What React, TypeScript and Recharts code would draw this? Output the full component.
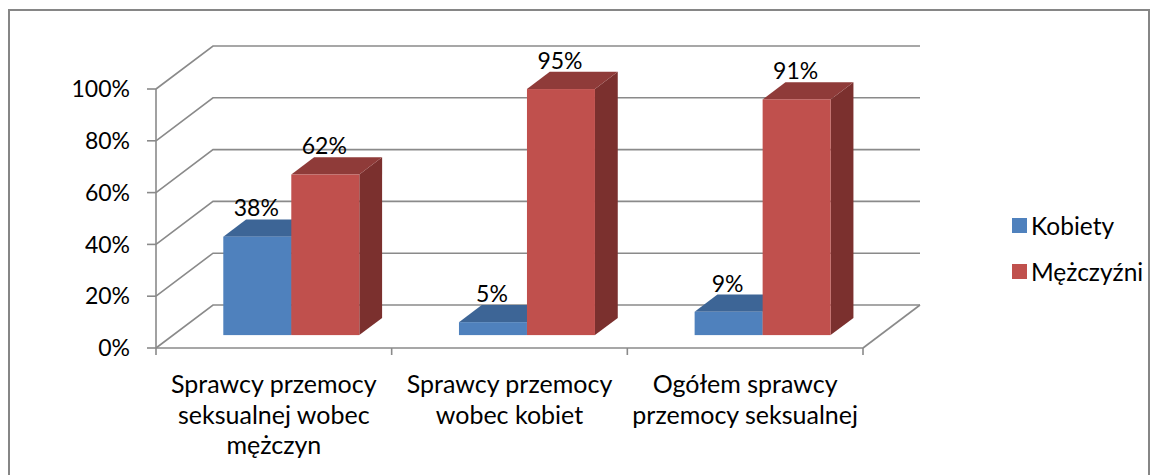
import { BarChart, Bar, XAxis, YAxis, CartesianGrid, Legend } from 'recharts';

const categories = [
  'Sprawcy przemocy seksualnej wobec mężczyn',
  'Sprawcy przemocy wobec kobiet',
  'Ogółem sprawcy przemocy seksualnej',
];
const kobiety = [0.38, 0.05, 0.09];
const mezczyzni = [0.62, 0.95, 0.91];
const yTicks = [0, 0.2, 0.4, 0.6, 0.8, 1];

const W = 1157;
const H = 475;
const FONT = 'Lato, "Open Sans", sans-serif';
const FONT_SIZE = 23;
const CAT_FONT_SIZE = 25;
const LEGEND_FONT_SIZE = 24.5;
const GRID = '#8a8a8a';
// 3D depth of the floor/walls and where the bars sit in it
const DEPTH_X = 57;
const DEPTH_Y = 43;
const BAR_FRONT = 0.3;
const BAR_DEPTH = 0.4;
const FLOOR_Y = 348;
const PLOT_W = 707;

const chartData = categories.map((name, i) => ({
  name,
  kobiety: kobiety[i],
  mezczyzni: mezczyzni[i],
}));

function wrapLabel(text: string, maxChars: number): string[] {
  const lines: string[] = [];
  let cur = '';
  text.split(' ').forEach((word) => {
    const next = cur ? `${cur} ${word}` : word;
    if (next.length > maxChars && cur) {
      lines.push(cur);
      cur = word;
    } else {
      cur = next;
    }
  });
  if (cur) lines.push(cur);
  return lines;
}

function GridLine3D(props: any) {
  const { x1, y1, x2 } = props;
  const bx = x1 + DEPTH_X;
  const by = y1 - DEPTH_Y;
  const isFloor = Math.abs(y1 - FLOOR_Y) < 1.5;
  return (
    <g key={`g-${y1}`}>
      <path
        d={`M${x1},${y1}L${bx},${by}L${x2 + DEPTH_X},${by}`}
        fill="none"
        stroke={GRID}
        strokeWidth={1.6}
      />
      {isFloor && (
        <line x1={x2} y1={y1} x2={x2 + DEPTH_X} y2={by} stroke={GRID} strokeWidth={1.6} />
      )}
    </g>
  );
}

function makeBar3D(topColor: string, sideColor: string) {
  return function Bar3D(props: any) {
    const { x, y, width, height, fill } = props;
    if (width == null || height == null) return <g />;
    const ox = DEPTH_X * BAR_FRONT;
    const oy = DEPTH_Y * BAR_FRONT;
    const dx = DEPTH_X * BAR_DEPTH;
    const dy = DEPTH_Y * BAR_DEPTH;
    const fx = x + ox;
    const fy = y - oy;
    const by = fy + height;
    return (
      <g>
        <polygon
          points={`${fx + width},${fy} ${fx + width + dx},${fy - dy} ${fx + width + dx},${by - dy} ${fx + width},${by}`}
          fill={sideColor}
        />
        <polygon
          points={`${fx},${fy} ${fx + dx},${fy - dy} ${fx + width + dx},${fy - dy} ${fx + width},${fy}`}
          fill={topColor}
        />
        <rect x={fx} y={fy} width={width} height={height} fill={fill} />
      </g>
    );
  };
}

function renderValueLabel(props: any) {
  const { x, y, width, value } = props;
  const cx = x + DEPTH_X * BAR_FRONT + width / 2 - 1;
  const ty = y - DEPTH_Y * (BAR_FRONT + BAR_DEPTH) - 3;
  return (
    <text x={cx} y={ty} textAnchor="middle" fontSize={FONT_SIZE} fontFamily={FONT} fill="#000">
      {`${Math.round(value * 100)}%`}
    </text>
  );
}

function CategoryTick(props: any) {
  const { x, y, payload, index, width, visibleTicksCount } = props;
  const count = visibleTicksCount || categories.length;
  const band = (width || PLOT_W) / count;
  const lines = wrapLabel(payload.value, 19);
  return (
    <g>
      <line x1={x - band / 2} y1={y} x2={x - band / 2} y2={y + 7} stroke={GRID} strokeWidth={1.6} />
      {index === count - 1 && (
        <line x1={x + band / 2} y1={y} x2={x + band / 2} y2={y + 7} stroke={GRID} strokeWidth={1.6} />
      )}
      <text x={x} y={y} textAnchor="middle" fontSize={CAT_FONT_SIZE} fontFamily={FONT} fill="#000">
        {lines.map((line, i) => (
          <tspan key={i} x={x} dy={i === 0 ? 45 : 30.5}>
            {line}
          </tspan>
        ))}
      </text>
    </g>
  );
}

function renderLegend(props: any) {
  const { payload } = props;
  return (
    <div style={{ fontFamily: FONT }}>
      {(payload || []).map((entry: any) => (
        <div key={entry.value} style={{ display: 'flex', alignItems: 'center', height: 46 }}>
          <span style={{ width: 15, height: 15, background: entry.color, marginRight: 4 }} />
          <span style={{ fontSize: LEGEND_FONT_SIZE, color: '#000' }}>{entry.value}</span>
        </div>
      ))}
    </div>
  );
}

export default function App() {
  return (
    <div
      style={{
        position: 'absolute',
        left: 0,
        top: 0,
        width: W,
        height: H,
        overflow: 'hidden',
        background: '#fff',
      }}
    >
      <div
        style={{
          position: 'absolute',
          left: 8,
          top: 9,
          width: 1142,
          height: 600,
          boxSizing: 'border-box',
          border: '2px solid #868686',
        }}
      />
      <BarChart
        width={W}
        height={H}
        data={chartData}
        margin={{ top: 89, right: 294, bottom: 0, left: 0 }}
        barCategoryGap="21.3%"
        barGap={0}
      >
        <CartesianGrid vertical={false} horizontal={GridLine3D} />
        <XAxis
          dataKey="name"
          height={127}
          interval={0}
          tickSize={0}
          tickMargin={0}
          tickLine={false}
          axisLine={{ stroke: GRID, strokeWidth: 1.6 }}
          tick={<CategoryTick />}
        />
        <YAxis
          width={156}
          domain={[0, 1]}
          ticks={yTicks}
          tickSize={9}
          tickMargin={17}
          tickFormatter={(v: number) => `${Math.round(v * 100)}%`}
          tick={{ fontSize: FONT_SIZE, fontFamily: FONT, fill: '#000' }}
          tickLine={{ stroke: GRID, strokeWidth: 1.6 }}
          axisLine={{ stroke: GRID, strokeWidth: 1.6 }}
        />
        <Legend
          layout="vertical"
          align="center"
          verticalAlign="middle"
          content={renderLegend}
          wrapperStyle={{ left: 1012, top: 202, width: 140 }}
        />
        <Bar
          dataKey="kobiety"
          name="Kobiety"
          fill="#4F81BD"
          shape={makeBar3D('#3D6596', '#34577f')}
          label={renderValueLabel}
          isAnimationActive={false}
        />
        <Bar
          dataKey="mezczyzni"
          name="Mężczyźni"
          fill="#C0504D"
          shape={makeBar3D('#8F3B39', '#7B302E')}
          label={renderValueLabel}
          isAnimationActive={false}
        />
      </BarChart>
    </div>
  );
}
